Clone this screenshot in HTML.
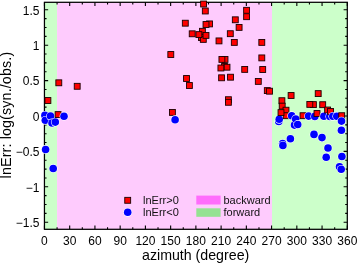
<!DOCTYPE html>
<html><head><meta charset="utf-8"><style>
html,body{margin:0;padding:0;background:#fff;width:358px;height:263px;overflow:hidden}
svg{display:block;will-change:transform}
</style></head><body>
<svg width="358" height="263" viewBox="0 0 358 263">
<rect x="44.45" y="2.30" width="12.62" height="227.00" fill="#ccffca"/>
<rect x="57.07" y="2.30" width="214.92" height="227.00" fill="#fecbfd"/>
<rect x="271.99" y="2.30" width="75.31" height="227.00" fill="#ccffca"/>
<path d="M44.45 229.30v-3.7M44.45 2.30v3.7M57.07 229.30v-2.1M57.07 2.30v2.1M69.69 229.30v-3.7M69.69 2.30v3.7M82.31 229.30v-2.1M82.31 2.30v2.1M94.93 229.30v-3.7M94.93 2.30v3.7M107.54 229.30v-2.1M107.54 2.30v2.1M120.16 229.30v-3.7M120.16 2.30v3.7M132.78 229.30v-2.1M132.78 2.30v2.1M145.40 229.30v-3.7M145.40 2.30v3.7M158.02 229.30v-2.1M158.02 2.30v2.1M170.64 229.30v-3.7M170.64 2.30v3.7M183.26 229.30v-2.1M183.26 2.30v2.1M195.88 229.30v-3.7M195.88 2.30v3.7M208.49 229.30v-2.1M208.49 2.30v2.1M221.11 229.30v-3.7M221.11 2.30v3.7M233.73 229.30v-2.1M233.73 2.30v2.1M246.35 229.30v-3.7M246.35 2.30v3.7M258.97 229.30v-2.1M258.97 2.30v2.1M271.59 229.30v-3.7M271.59 2.30v3.7M284.21 229.30v-2.1M284.21 2.30v2.1M296.83 229.30v-3.7M296.83 2.30v3.7M309.44 229.30v-2.1M309.44 2.30v2.1M322.06 229.30v-3.7M322.06 2.30v3.7M334.68 229.30v-2.1M334.68 2.30v2.1M347.30 229.30v-3.7M347.30 2.30v3.7M44.45 222.20h3.7M347.30 222.20h-3.7M44.45 213.35h2.1M347.30 213.35h-2.1M44.45 204.50h2.1M347.30 204.50h-2.1M44.45 195.65h2.1M347.30 195.65h-2.1M44.45 186.80h3.7M347.30 186.80h-3.7M44.45 177.95h2.1M347.30 177.95h-2.1M44.45 169.10h2.1M347.30 169.10h-2.1M44.45 160.25h2.1M347.30 160.25h-2.1M44.45 151.40h3.7M347.30 151.40h-3.7M44.45 142.55h2.1M347.30 142.55h-2.1M44.45 133.70h2.1M347.30 133.70h-2.1M44.45 124.85h2.1M347.30 124.85h-2.1M44.45 116.00h3.7M347.30 116.00h-3.7M44.45 107.15h2.1M347.30 107.15h-2.1M44.45 98.30h2.1M347.30 98.30h-2.1M44.45 89.45h2.1M347.30 89.45h-2.1M44.45 80.60h3.7M347.30 80.60h-3.7M44.45 71.75h2.1M347.30 71.75h-2.1M44.45 62.90h2.1M347.30 62.90h-2.1M44.45 54.05h2.1M347.30 54.05h-2.1M44.45 45.20h3.7M347.30 45.20h-3.7M44.45 36.35h2.1M347.30 36.35h-2.1M44.45 27.50h2.1M347.30 27.50h-2.1M44.45 18.65h2.1M347.30 18.65h-2.1M44.45 9.80h3.7M347.30 9.80h-3.7" stroke="#000" stroke-width="1.1" fill="none"/>
<rect x="44.45" y="2.30" width="302.85" height="227.00" fill="none" stroke="#000" stroke-width="1.25"/>
<circle cx="44.90" cy="115.40" r="4.4" fill="#fff"/><circle cx="44.90" cy="115.40" r="3.8" fill="#0000ff"/>
<circle cx="45.30" cy="120.30" r="4.4" fill="#fff"/><circle cx="45.30" cy="120.30" r="3.8" fill="#0000ff"/>
<circle cx="45.60" cy="149.50" r="4.4" fill="#fff"/><circle cx="45.60" cy="149.50" r="3.8" fill="#0000ff"/>
<rect x="44.95" y="97.55" width="5.90" height="5.90" fill="#ff0000" stroke="#1a0000" stroke-width="0.9"/>
<circle cx="50.50" cy="116.10" r="4.4" fill="#fff"/><circle cx="50.50" cy="116.10" r="3.8" fill="#0000ff"/>
<circle cx="52.00" cy="123.00" r="4.4" fill="#fff"/><circle cx="52.00" cy="123.00" r="3.8" fill="#0000ff"/>
<circle cx="53.20" cy="168.50" r="4.4" fill="#fff"/><circle cx="53.20" cy="168.50" r="3.8" fill="#0000ff"/>
<circle cx="55.30" cy="122.10" r="4.4" fill="#fff"/><circle cx="55.30" cy="122.10" r="3.8" fill="#0000ff"/>
<rect x="55.15" y="111.65" width="5.90" height="5.90" fill="#ff0000" stroke="#1a0000" stroke-width="0.9"/>
<rect x="55.85" y="79.85" width="5.90" height="5.90" fill="#ff0000" stroke="#1a0000" stroke-width="0.9"/>
<circle cx="64.00" cy="116.20" r="4.4" fill="#fff"/><circle cx="64.00" cy="116.20" r="3.8" fill="#0000ff"/>
<rect x="74.25" y="83.35" width="5.90" height="5.90" fill="#ff0000" stroke="#1a0000" stroke-width="0.9"/>
<rect x="167.85" y="51.55" width="5.90" height="5.90" fill="#ff0000" stroke="#1a0000" stroke-width="0.9"/>
<rect x="169.45" y="109.45" width="5.90" height="5.90" fill="#ff0000" stroke="#1a0000" stroke-width="0.9"/>
<circle cx="175.10" cy="119.70" r="4.4" fill="#fff"/><circle cx="175.10" cy="119.70" r="3.8" fill="#0000ff"/>
<rect x="182.35" y="20.25" width="5.90" height="5.90" fill="#ff0000" stroke="#1a0000" stroke-width="0.9"/>
<rect x="183.55" y="75.55" width="5.90" height="5.90" fill="#ff0000" stroke="#1a0000" stroke-width="0.9"/>
<rect x="186.45" y="82.55" width="5.90" height="5.90" fill="#ff0000" stroke="#1a0000" stroke-width="0.9"/>
<rect x="189.25" y="30.85" width="5.90" height="5.90" fill="#ff0000" stroke="#1a0000" stroke-width="0.9"/>
<rect x="198.55" y="34.65" width="5.90" height="5.90" fill="#ff0000" stroke="#1a0000" stroke-width="0.9"/>
<rect x="199.45" y="28.35" width="5.90" height="5.90" fill="#ff0000" stroke="#1a0000" stroke-width="0.9"/>
<rect x="200.35" y="36.45" width="5.90" height="5.90" fill="#ff0000" stroke="#1a0000" stroke-width="0.9"/>
<rect x="195.95" y="31.65" width="5.90" height="5.90" fill="#ff0000" stroke="#1a0000" stroke-width="0.9"/>
<rect x="200.65" y="1.05" width="5.90" height="5.90" fill="#ff0000" stroke="#1a0000" stroke-width="0.9"/>
<rect x="202.35" y="8.05" width="5.90" height="5.90" fill="#ff0000" stroke="#1a0000" stroke-width="0.9"/>
<rect x="203.05" y="32.45" width="5.90" height="5.90" fill="#ff0000" stroke="#1a0000" stroke-width="0.9"/>
<rect x="206.55" y="20.95" width="5.90" height="5.90" fill="#ff0000" stroke="#1a0000" stroke-width="0.9"/>
<rect x="203.05" y="21.55" width="5.90" height="5.90" fill="#ff0000" stroke="#1a0000" stroke-width="0.9"/>
<rect x="216.05" y="37.95" width="5.90" height="5.90" fill="#ff0000" stroke="#1a0000" stroke-width="0.9"/>
<rect x="221.55" y="63.55" width="5.90" height="5.90" fill="#ff0000" stroke="#1a0000" stroke-width="0.9"/>
<rect x="218.65" y="74.85" width="5.90" height="5.90" fill="#ff0000" stroke="#1a0000" stroke-width="0.9"/>
<rect x="222.05" y="56.45" width="5.90" height="5.90" fill="#ff0000" stroke="#1a0000" stroke-width="0.9"/>
<rect x="218.95" y="56.45" width="5.90" height="5.90" fill="#ff0000" stroke="#1a0000" stroke-width="0.9"/>
<rect x="224.05" y="64.25" width="5.90" height="5.90" fill="#ff0000" stroke="#1a0000" stroke-width="0.9"/>
<rect x="217.95" y="65.05" width="5.90" height="5.90" fill="#ff0000" stroke="#1a0000" stroke-width="0.9"/>
<rect x="225.45" y="96.75" width="5.90" height="5.90" fill="#ff0000" stroke="#1a0000" stroke-width="0.9"/>
<rect x="225.45" y="99.35" width="5.90" height="5.90" fill="#ff0000" stroke="#1a0000" stroke-width="0.9"/>
<rect x="227.35" y="30.75" width="5.90" height="5.90" fill="#ff0000" stroke="#1a0000" stroke-width="0.9"/>
<rect x="227.55" y="74.25" width="5.90" height="5.90" fill="#ff0000" stroke="#1a0000" stroke-width="0.9"/>
<rect x="231.35" y="39.45" width="5.90" height="5.90" fill="#ff0000" stroke="#1a0000" stroke-width="0.9"/>
<rect x="232.35" y="16.85" width="5.90" height="5.90" fill="#ff0000" stroke="#1a0000" stroke-width="0.9"/>
<rect x="236.15" y="24.45" width="5.90" height="5.90" fill="#ff0000" stroke="#1a0000" stroke-width="0.9"/>
<rect x="241.75" y="66.45" width="5.90" height="5.90" fill="#ff0000" stroke="#1a0000" stroke-width="0.9"/>
<rect x="243.65" y="7.35" width="5.90" height="5.90" fill="#ff0000" stroke="#1a0000" stroke-width="0.9"/>
<rect x="243.65" y="13.75" width="5.90" height="5.90" fill="#ff0000" stroke="#1a0000" stroke-width="0.9"/>
<rect x="255.35" y="78.45" width="5.90" height="5.90" fill="#ff0000" stroke="#1a0000" stroke-width="0.9"/>
<rect x="258.85" y="39.45" width="5.90" height="5.90" fill="#ff0000" stroke="#1a0000" stroke-width="0.9"/>
<rect x="258.85" y="54.95" width="5.90" height="5.90" fill="#ff0000" stroke="#1a0000" stroke-width="0.9"/>
<rect x="259.75" y="66.55" width="5.90" height="5.90" fill="#ff0000" stroke="#1a0000" stroke-width="0.9"/>
<rect x="264.35" y="87.65" width="5.90" height="5.90" fill="#ff0000" stroke="#1a0000" stroke-width="0.9"/>
<rect x="266.55" y="88.25" width="5.90" height="5.90" fill="#ff0000" stroke="#1a0000" stroke-width="0.9"/>
<circle cx="278.80" cy="121.50" r="4.4" fill="#fff"/><circle cx="278.80" cy="121.50" r="3.8" fill="#0000ff"/>
<circle cx="279.20" cy="119.30" r="4.4" fill="#fff"/><circle cx="279.20" cy="119.30" r="3.8" fill="#0000ff"/>
<rect x="278.95" y="97.75" width="5.90" height="5.90" fill="#ff0000" stroke="#1a0000" stroke-width="0.9"/>
<rect x="279.25" y="103.15" width="5.90" height="5.90" fill="#ff0000" stroke="#1a0000" stroke-width="0.9"/>
<circle cx="282.60" cy="143.60" r="4.4" fill="#fff"/><circle cx="282.60" cy="143.60" r="3.8" fill="#0000ff"/>
<circle cx="282.90" cy="145.40" r="4.4" fill="#fff"/><circle cx="282.90" cy="145.40" r="3.8" fill="#0000ff"/>
<rect x="283.05" y="107.25" width="5.90" height="5.90" fill="#ff0000" stroke="#1a0000" stroke-width="0.9"/>
<rect x="283.25" y="112.75" width="5.90" height="5.90" fill="#ff0000" stroke="#1a0000" stroke-width="0.9"/>
<rect x="278.05" y="109.65" width="5.90" height="5.90" fill="#ff0000" stroke="#1a0000" stroke-width="0.9"/>
<circle cx="290.40" cy="138.80" r="4.4" fill="#fff"/><circle cx="290.40" cy="138.80" r="3.8" fill="#0000ff"/>
<rect x="288.15" y="92.55" width="5.90" height="5.90" fill="#ff0000" stroke="#1a0000" stroke-width="0.9"/>
<circle cx="291.70" cy="115.70" r="4.4" fill="#fff"/><circle cx="291.70" cy="115.70" r="3.8" fill="#0000ff"/>
<circle cx="294.50" cy="125.10" r="4.4" fill="#fff"/><circle cx="294.50" cy="125.10" r="3.8" fill="#0000ff"/>
<circle cx="295.70" cy="119.00" r="4.4" fill="#fff"/><circle cx="295.70" cy="119.00" r="3.8" fill="#0000ff"/>
<circle cx="297.70" cy="124.50" r="4.4" fill="#fff"/><circle cx="297.70" cy="124.50" r="3.8" fill="#0000ff"/>
<rect x="300.05" y="112.75" width="5.90" height="5.90" fill="#ff0000" stroke="#1a0000" stroke-width="0.9"/>
<circle cx="308.60" cy="116.10" r="4.4" fill="#fff"/><circle cx="308.60" cy="116.10" r="3.8" fill="#0000ff"/>
<rect x="310.45" y="101.65" width="5.90" height="5.90" fill="#ff0000" stroke="#1a0000" stroke-width="0.9"/>
<rect x="306.85" y="101.45" width="5.90" height="5.90" fill="#ff0000" stroke="#1a0000" stroke-width="0.9"/>
<circle cx="314.00" cy="134.40" r="4.4" fill="#fff"/><circle cx="314.00" cy="134.40" r="3.8" fill="#0000ff"/>
<circle cx="314.80" cy="116.40" r="4.4" fill="#fff"/><circle cx="314.80" cy="116.40" r="3.8" fill="#0000ff"/>
<rect x="314.05" y="110.55" width="5.90" height="5.90" fill="#ff0000" stroke="#1a0000" stroke-width="0.9"/>
<rect x="315.25" y="90.65" width="5.90" height="5.90" fill="#ff0000" stroke="#1a0000" stroke-width="0.9"/>
<circle cx="322.00" cy="137.60" r="4.4" fill="#fff"/><circle cx="322.00" cy="137.60" r="3.8" fill="#0000ff"/>
<rect x="319.75" y="101.75" width="5.90" height="5.90" fill="#ff0000" stroke="#1a0000" stroke-width="0.9"/>
<circle cx="323.90" cy="116.20" r="4.4" fill="#fff"/><circle cx="323.90" cy="116.20" r="3.8" fill="#0000ff"/>
<circle cx="326.20" cy="157.20" r="4.4" fill="#fff"/><circle cx="326.20" cy="157.20" r="3.8" fill="#0000ff"/>
<rect x="324.65" y="107.05" width="5.90" height="5.90" fill="#ff0000" stroke="#1a0000" stroke-width="0.9"/>
<circle cx="328.00" cy="148.00" r="4.4" fill="#fff"/><circle cx="328.00" cy="148.00" r="3.8" fill="#0000ff"/>
<circle cx="329.80" cy="116.40" r="4.4" fill="#fff"/><circle cx="329.80" cy="116.40" r="3.8" fill="#0000ff"/>
<rect x="327.55" y="108.45" width="5.90" height="5.90" fill="#ff0000" stroke="#1a0000" stroke-width="0.9"/>
<circle cx="332.80" cy="116.30" r="4.4" fill="#fff"/><circle cx="332.80" cy="116.30" r="3.8" fill="#0000ff"/>
<circle cx="336.80" cy="116.20" r="4.4" fill="#fff"/><circle cx="336.80" cy="116.20" r="3.8" fill="#0000ff"/>
<circle cx="339.50" cy="166.80" r="4.4" fill="#fff"/><circle cx="339.50" cy="166.80" r="3.8" fill="#0000ff"/>
<circle cx="341.20" cy="169.30" r="4.4" fill="#fff"/><circle cx="341.20" cy="169.30" r="3.8" fill="#0000ff"/>
<circle cx="341.40" cy="130.20" r="4.4" fill="#fff"/><circle cx="341.40" cy="130.20" r="3.8" fill="#0000ff"/>
<rect x="338.75" y="112.75" width="5.90" height="5.90" fill="#ff0000" stroke="#1a0000" stroke-width="0.9"/>
<circle cx="341.90" cy="156.50" r="4.4" fill="#fff"/><circle cx="341.90" cy="156.50" r="3.8" fill="#0000ff"/>
<circle cx="341.50" cy="121.10" r="4.4" fill="#fff"/><circle cx="341.50" cy="121.10" r="3.8" fill="#0000ff"/>
<rect x="124.75" y="197.35" width="5.90" height="5.90" fill="#ff0000" stroke="#1a0000" stroke-width="0.9"/>
<circle cx="127.7" cy="212.3" r="4.4" fill="#fff"/><circle cx="127.7" cy="212.3" r="3.8" fill="#0000ff"/>
<rect x="196.3" y="195.6" width="24.3" height="8.9" fill="#ff6cfc"/>
<rect x="196.3" y="208.3" width="24.3" height="8.5" fill="#94e292"/>
<g font-family="&quot;Liberation Sans&quot;, sans-serif" font-size="11" fill="#111">
<text x="143" y="203.7">lnErr&gt;0</text>
<text x="143" y="215.6">lnErr&lt;0</text>
<text x="223.5" y="203.7">backward</text>
<text x="223.5" y="215.6">forward</text>
</g>
<g font-family="&quot;Liberation Sans&quot;, sans-serif" font-size="12" fill="#000">
<text x="44.45" y="244.7" text-anchor="middle">0</text>
<text x="69.69" y="244.7" text-anchor="middle">30</text>
<text x="94.93" y="244.7" text-anchor="middle">60</text>
<text x="120.16" y="244.7" text-anchor="middle">90</text>
<text x="145.40" y="244.7" text-anchor="middle">120</text>
<text x="170.64" y="244.7" text-anchor="middle">150</text>
<text x="195.88" y="244.7" text-anchor="middle">180</text>
<text x="221.11" y="244.7" text-anchor="middle">210</text>
<text x="246.35" y="244.7" text-anchor="middle">240</text>
<text x="271.59" y="244.7" text-anchor="middle">270</text>
<text x="296.83" y="244.7" text-anchor="middle">300</text>
<text x="322.06" y="244.7" text-anchor="middle">330</text>
<text x="347.30" y="244.7" text-anchor="middle">360</text>
<text x="39.5" y="226.90" text-anchor="end">−1.5</text>
<text x="39.5" y="191.50" text-anchor="end">−1</text>
<text x="39.5" y="156.10" text-anchor="end">−0.5</text>
<text x="39.5" y="120.70" text-anchor="end">0</text>
<text x="39.5" y="85.30" text-anchor="end">0.5</text>
<text x="39.5" y="49.90" text-anchor="end">1</text>
<text x="39.5" y="14.50" text-anchor="end">1.5</text>
</g>
<text font-family="&quot;Liberation Sans&quot;, sans-serif" font-size="14.2" x="142.0" y="259.6" fill="#000">azimuth (degree)</text>
<text font-family="&quot;Liberation Sans&quot;, sans-serif" font-size="14.3" fill="#000" letter-spacing="0.13" transform="translate(10.6,178.4) rotate(-90)">lnErr: log(syn./obs.)</text>
</svg>
</body></html>
